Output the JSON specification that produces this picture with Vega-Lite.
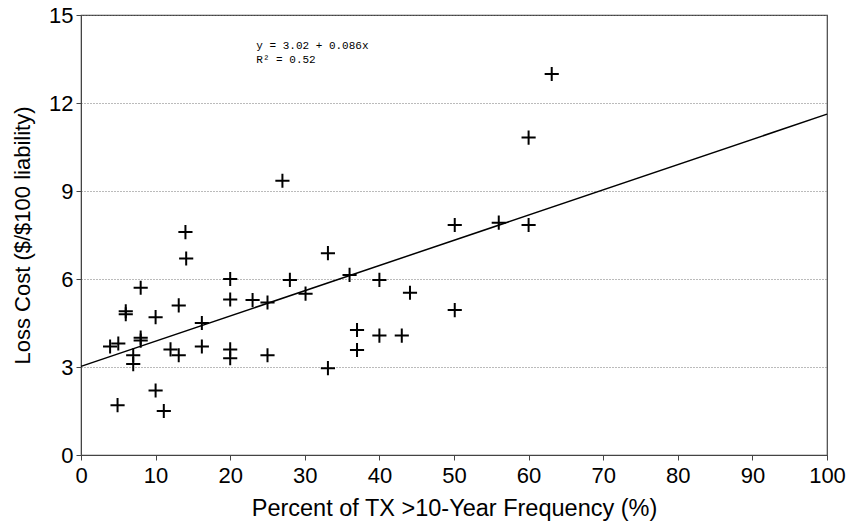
{
  "$schema": "https://vega.github.io/schema/vega-lite/v6.json",
  "autosize": {"type": "none"},
  "width": 746,
  "height": 440,
  "padding": {"left": 81, "top": 15, "right": 19, "bottom": 66},
  "background": "white",
  "config": {
    "view": {"stroke": "#444", "strokeWidth": 1.2},
    "font": "Liberation Sans",
    "axis": {
      "labelFont": "Liberation Sans",
      "titleFont": "Liberation Sans",
      "labelFontSize": 22,
      "titleFontWeight": "normal",
      "labelColor": "#000",
      "titleColor": "#000",
      "domainColor": "#444",
      "tickColor": "#444",
      "tickSize": 5,
      "labelFlush": false,
      "labelOverlap": false
    }
  },
  "datasets": {
    "points": [
      {"pct": 3.9, "cost": 3.7}, {"pct": 5.0, "cost": 3.8}, {"pct": 4.9, "cost": 1.7},
      {"pct": 6.0, "cost": 4.8}, {"pct": 6.0, "cost": 4.9}, {"pct": 8.0, "cost": 5.7},
      {"pct": 7.0, "cost": 3.4}, {"pct": 7.0, "cost": 3.1}, {"pct": 8.0, "cost": 4.0},
      {"pct": 8.0, "cost": 3.9}, {"pct": 10.0, "cost": 4.7}, {"pct": 10.0, "cost": 2.2},
      {"pct": 11.1, "cost": 1.5}, {"pct": 13.1, "cost": 5.1}, {"pct": 12.0, "cost": 3.6},
      {"pct": 13.1, "cost": 3.4}, {"pct": 14.1, "cost": 6.7}, {"pct": 14.0, "cost": 7.6},
      {"pct": 16.2, "cost": 4.5}, {"pct": 16.2, "cost": 3.7}, {"pct": 20.0, "cost": 6.0},
      {"pct": 20.0, "cost": 5.3}, {"pct": 20.0, "cost": 3.6}, {"pct": 20.0, "cost": 3.3},
      {"pct": 23.0, "cost": 5.28}, {"pct": 25.0, "cost": 5.2}, {"pct": 25.0, "cost": 3.4},
      {"pct": 27.0, "cost": 9.35}, {"pct": 28.0, "cost": 5.97}, {"pct": 30.1, "cost": 5.5},
      {"pct": 33.1, "cost": 6.88}, {"pct": 33.1, "cost": 2.96}, {"pct": 36.0, "cost": 6.14},
      {"pct": 37.0, "cost": 4.26}, {"pct": 37.0, "cost": 3.58}, {"pct": 40.0, "cost": 5.97},
      {"pct": 40.0, "cost": 4.07}, {"pct": 43.0, "cost": 4.07}, {"pct": 44.1, "cost": 5.53},
      {"pct": 50.1, "cost": 7.84}, {"pct": 50.1, "cost": 4.94}, {"pct": 56.0, "cost": 7.92},
      {"pct": 60.0, "cost": 7.84}, {"pct": 60.0, "cost": 10.82}, {"pct": 63.1, "cost": 12.99}
    ],
    "fit": [{"pct": 0, "cost": 3.02}, {"pct": 100, "cost": 11.62}],
    "note": [
      {"pct": 23.5, "cost": 13.94, "label": "y = 3.02 + 0.086x"},
      {"pct": 23.5, "cost": 13.45, "label": "R² = 0.52"}
    ]
  },
  "encoding": {
    "x": {
      "field": "pct", "type": "quantitative",
      "scale": {"domain": [0, 100], "nice": false},
      "axis": {"values": [0, 10, 20, 30, 40, 50, 60, 70, 80, 90, 100], "grid": false,
               "title": "Percent of TX >10-Year Frequency (%)", "titleFontSize": 23.5,
               "labelPadding": 5, "titlePadding": 10}
    },
    "y": {
      "field": "cost", "type": "quantitative",
      "scale": {"domain": [0, 15], "nice": false},
      "axis": {"values": [0, 3, 6, 9, 12, 15], "grid": true, "gridColor": "#777",
               "gridDash": [1, 2], "gridWidth": 1, "titleFontSize": 22,
               "title": "Loss Cost ($/$100 liability)", "labelPadding": 3, "titlePadding": 14}
    }
  },
  "layer": [
    {
      "data": {"name": "fit"},
      "mark": {"type": "line", "color": "#000", "strokeWidth": 1.5},
      "encoding": {}
    },
    {
      "data": {"name": "points"},
      "mark": {"type": "point", "shape": "M-1,0L1,0M0,-1L0,1", "size": 200,
               "filled": false, "stroke": "#000", "strokeWidth": 2, "opacity": 1},
      "encoding": {}
    },
    {
      "data": {"name": "note"},
      "mark": {"type": "text", "align": "left", "baseline": "middle",
               "font": "Liberation Mono", "fontSize": 11, "color": "#000"},
      "encoding": {"text": {"field": "label"}}
    }
  ]
}
